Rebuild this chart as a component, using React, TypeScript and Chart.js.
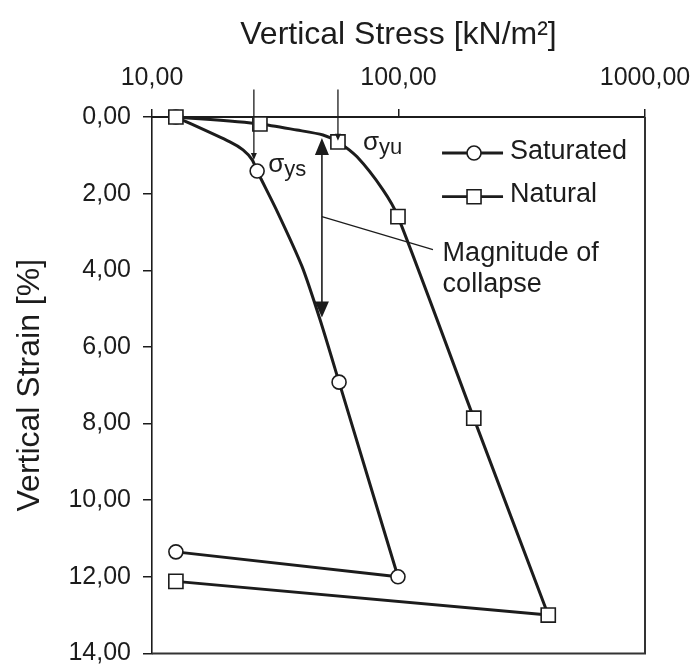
import React, { useEffect, useRef } from 'react';
import { Chart, registerables } from 'chart.js';

Chart.register(...registerables);

// ---- axis ticks ----
const xTickValues = [10, 100, 1000];
const yTickValues = [0, 2, 4, 6, 8, 10, 12, 14];

// ---- Natural (squares) : loading branch ----
const natLoadStress = [12.5, 27.4, 38.7, 49.4, 56.8, 67.9, 86.5, 99.5, 202, 405];
const natLoadStrain = [0, 0.18, 0.34, 0.47, 0.65, 1.04, 1.9, 2.6, 7.86, 13.0];
const natLoadMarked = [1, 1, 0, 0, 1, 0, 0, 1, 1, 1];
// unloading branch
const natUnloadStress = [405, 12.5];
const natUnloadStrain = [13.0, 12.12];
const natUnloadMarked = [0, 1];

// ---- Saturated (circles) : loading branch ----
const satLoadStress = [12.5, 20.7, 23.4, 25.5, 26.7, 32.4, 40.6, 48.0, 57.4, 99.5];
const satLoadStrain = [0, 0.65, 0.86, 1.12, 1.41, 2.5, 3.9, 5.28, 6.92, 12.0];
const satLoadMarked = [1, 0, 0, 0, 1, 0, 0, 0, 1, 1];
// unloading branch
const satUnloadStress = [99.5, 12.5];
const satUnloadStrain = [12.0, 11.35];
const satUnloadMarked = [0, 1];

// ---- annotations (data units: stress, strain) ----
const ysArrow = { stress: 25.9, from: -0.72, to: 1.12 };
const yuArrow = { stress: 56.8, from: -0.72, to: 0.62 };
const collapseArrow = { stress: 48.9, top: 0.55, bottom: 5.23 };
const leaderLine = { fromStress: 48.9, fromStrain: 2.6, toStress: 138, toStrain: 3.46 };
const collapseText = { stress: 151, lines: ['Magnitude of', 'collapse'], baselines: [3.77, 4.58] };
const sigmaYs = { stress: 29.6, strain: 1.43, sub: 'ys' };
const sigmaYu = { stress: 71.8, strain: 0.86, sub: 'yu' };
const legendItems = [
  { label: 'Saturated', style: 'circle', lineStrain: 0.94, textStrain: 1.09 },
  { label: 'Natural', style: 'rect', lineStrain: 2.08, textStrain: 2.21 },
];
const legendX = { lineFrom: 150.2, lineTo: 265.5, marker: 202.5, text: 283.4 };

const FONT = '"Liberation Sans", Arial, Helvetica, sans-serif';
const INK = '#1c1c1c';

const fmt = (v: number) => Number(v).toFixed(2).replace('.', ',');
const toPts = (xs: number[], ys: number[]) => xs.map((x, i) => ({ x, y: ys[i] }));

export default function App() {
  const ref = useRef<HTMLCanvasElement>(null);

  useEffect(() => {
    if (!ref.current) return;

    const mkSet = (
      label: string,
      xs: number[],
      ys: number[],
      marked: number[],
      style: string,
      tension: number,
    ) => ({
      label,
      data: toPts(xs, ys),
      showLine: true,
      borderColor: INK,
      borderWidth: 3,
      tension,
      clip: false as any,
      pointStyle: style,
      pointBackgroundColor: '#ffffff',
      pointBorderColor: INK,
      pointBorderWidth: 1.6,
      pointRadius: (c: any) => (marked[c.dataIndex] ? (style === 'rect' ? 10 : 7) : 0),
      pointHoverRadius: 0,
    });

    const annot = {
      id: 'annot',
      afterDatasetsDraw(chart: any) {
        const { ctx, chartArea } = chart;
        const xs = chart.scales.x;
        const ys = chart.scales.y;
        const X = (v: number) => xs.getPixelForValue(v);
        const Y = (v: number) => ys.getPixelForValue(v);
        ctx.save();

        // right & bottom frame
        ctx.strokeStyle = '#333';
        ctx.lineWidth = 2;
        ctx.beginPath();
        ctx.moveTo(chartArea.right, chartArea.top);
        ctx.lineTo(chartArea.right, chartArea.bottom);
        ctx.lineTo(chartArea.left, chartArea.bottom);
        ctx.stroke();

        const head = (x: number, tipY: number, dir: number, len: number, half: number) => {
          ctx.beginPath();
          ctx.moveTo(x, tipY);
          ctx.lineTo(x - half, tipY - dir * len);
          ctx.lineTo(x + half, tipY - dir * len);
          ctx.closePath();
          ctx.fill();
        };

        ctx.strokeStyle = INK;
        ctx.fillStyle = INK;

        // yield arrows (thin)
        [ysArrow, yuArrow].forEach((a) => {
          const x = X(a.stress);
          ctx.lineWidth = 1.3;
          ctx.beginPath();
          ctx.moveTo(x, Y(a.from));
          ctx.lineTo(x, Y(a.to) - 5);
          ctx.stroke();
          head(x, Y(a.to), 1, 7, 3);
        });

        // collapse double arrow
        {
          const x = X(collapseArrow.stress);
          const t = Y(collapseArrow.top);
          const b = Y(collapseArrow.bottom);
          ctx.lineWidth = 1.6;
          ctx.beginPath();
          ctx.moveTo(x, t + 12);
          ctx.lineTo(x, b - 12);
          ctx.stroke();
          head(x, t, -1, 17, 7);
          head(x, b, 1, 16, 7);
        }

        // leader line
        ctx.lineWidth = 1.2;
        ctx.beginPath();
        ctx.moveTo(X(leaderLine.fromStress), Y(leaderLine.fromStrain));
        ctx.lineTo(X(leaderLine.toStress), Y(leaderLine.toStrain));
        ctx.stroke();

        // collapse text
        ctx.font = `27px ${FONT}`;
        ctx.textAlign = 'left';
        ctx.textBaseline = 'alphabetic';
        collapseText.lines.forEach((l, i) => {
          ctx.fillText(l, X(collapseText.stress), Y(collapseText.baselines[i]));
        });

        // sigma labels
        [sigmaYs, sigmaYu].forEach((s) => {
          const x = X(s.stress);
          const y = Y(s.strain);
          ctx.font = `26px ${FONT}`;
          ctx.fillText('σ', x, y);
          const w = ctx.measureText('σ').width;
          ctx.font = `22px ${FONT}`;
          ctx.fillText(s.sub, x + w, y + 4);
        });

        // legend
        legendItems.forEach((it) => {
          const y = Y(it.lineStrain);
          ctx.lineWidth = 2.8;
          ctx.strokeStyle = INK;
          ctx.beginPath();
          ctx.moveTo(X(legendX.lineFrom), y);
          ctx.lineTo(X(legendX.lineTo), y);
          ctx.stroke();
          const mx = X(legendX.marker);
          ctx.fillStyle = '#fff';
          ctx.lineWidth = 1.6;
          ctx.beginPath();
          if (it.style === 'circle') {
            ctx.arc(mx, y, 7, 0, Math.PI * 2);
          } else {
            ctx.rect(mx - 7, y - 7, 14, 14);
          }
          ctx.fill();
          ctx.stroke();
          ctx.fillStyle = INK;
          ctx.font = `27px ${FONT}`;
          ctx.textBaseline = 'alphabetic';
          ctx.fillText(it.label, X(legendX.text), Y(it.textStrain));
        });

        ctx.restore();
      },
    };

    const chart = new Chart(ref.current, {
      type: 'scatter',
      data: {
        datasets: [
          mkSet('Natural', natLoadStress, natLoadStrain, natLoadMarked, 'rect', 0.25),
          mkSet('Natural unloading', natUnloadStress, natUnloadStrain, natUnloadMarked, 'rect', 0),
          mkSet('Saturated', satLoadStress, satLoadStrain, satLoadMarked, 'circle', 0.25),
          mkSet('Saturated unloading', satUnloadStress, satUnloadStrain, satUnloadMarked, 'circle', 0),
        ] as any,
      },
      options: {
        responsive: false,
        animation: false,
        events: [],
        layout: { padding: { top: 0, left: 0, right: 52, bottom: 10 } },
        plugins: {
          legend: { display: false },
          tooltip: { enabled: false },
          title: { display: false },
        },
        scales: {
          x: {
            type: 'logarithmic',
            position: 'top',
            min: 10,
            max: 1000,
            afterBuildTicks: (s: any) => {
              s.ticks = xTickValues.map((v) => ({ value: v }));
            },
            afterFit: (s: any) => {
              s.height = 117;
              s.paddingLeft = 0;
              s.paddingRight = 0;
              s.paddingTop = 0;
              s.paddingBottom = 0;
            },
            ticks: {
              callback: (v: any) => fmt(v),
              font: { family: FONT, size: 25, lineHeight: 1.2 },
              color: INK,
              padding: 16,
              maxRotation: 0,
              autoSkip: false,
            },
            grid: {
              display: true,
              drawOnChartArea: false,
              drawTicks: true,
              tickLength: 8,
              color: INK,
              lineWidth: 1.5,
            },
            border: { display: true, color: INK, width: 2 },
            title: {
              display: true,
              text: 'Vertical Stress [kN/m²]',
              font: { family: FONT, size: 32, lineHeight: 1.2 },
              color: INK,
              padding: { top: 16, bottom: 0 },
            },
          },
          y: {
            type: 'linear',
            reverse: true,
            min: 0,
            max: 14,
            afterBuildTicks: (s: any) => {
              s.ticks = yTickValues.map((v) => ({ value: v }));
            },
            afterFit: (s: any) => {
              s.width = 152;
              s.paddingLeft = 0;
              s.paddingRight = 0;
              s.paddingTop = 0;
              s.paddingBottom = 0;
            },
            ticks: {
              callback: (v: any) => fmt(v),
              font: { family: FONT, size: 25, lineHeight: 1.2 },
              color: INK,
              padding: 12,
              autoSkip: false,
            },
            grid: {
              display: true,
              drawOnChartArea: false,
              drawTicks: true,
              tickLength: 9,
              color: INK,
              lineWidth: 1.5,
            },
            border: { display: true, color: INK, width: 1.6 },
            title: {
              display: true,
              text: 'Vertical Strain [%]',
              font: { family: FONT, size: 32, lineHeight: 1.2 },
              color: INK,
              padding: { top: 11, bottom: 0 },
            },
          },
        },
      } as any,
      plugins: [annot],
    });

    return () => chart.destroy();
  }, []);

  return (
    <div style={{ position: 'absolute', left: 0, top: 0, width: 697, height: 665, background: '#ffffff' }}>
      <canvas ref={ref} width={697} height={665} style={{ display: 'block' }} />
    </div>
  );
}
